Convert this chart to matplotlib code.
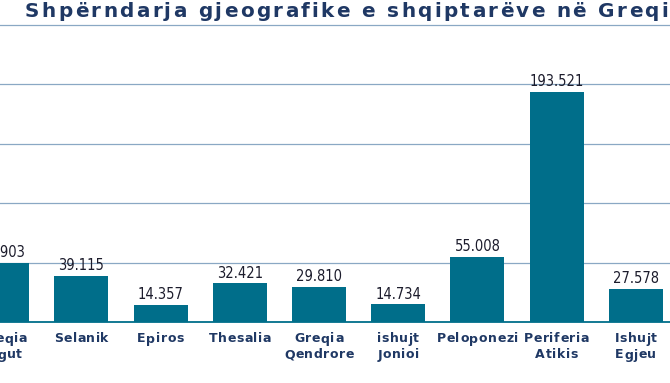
import matplotlib
matplotlib.use("Agg")
import matplotlib.pyplot as plt
from matplotlib.font_manager import findfont, FontProperties
from matplotlib.ft2font import FT2Font

# data (first bar is cut by the left edge)
categories = ["Greqia\nJugut", "Selanik", "Epiros", "Thesalia", "Greqia\nQendrore",
              "ishujt\nJonioi", "Peloponezi", "Periferia\nAtikis", "Ishujt\nEgjeu"]
values = [49.903, 39.115, 14.357, 32.421, 29.810, 14.734, 55.008, 193.521, 27.578]
value_labels = ["49.903", "39.115", "14.357", "32.421", "29.810", "14.734",
                "55.008", "193.521", "27.578"]
title = "Shpërndarja gjeografike e shqiptarëve në Greqi"

BAR = "#006e8a"
GRID = "#8aa8c4"
NAVY = "#1f3864"
W, H = 670, 383

fig = plt.figure(figsize=(W / 100, H / 100), dpi=100)
ax = fig.add_axes([0, 61 / H, 1, 299.4 / H])

x = list(range(len(values)))
ax.bar(x, values, width=0.68, color=BAR, zorder=3)
ax.set_xlim(-2.2 / 79.2, (W - 2.2) / 79.2)
ax.set_ylim(0, 252)

for yv in [50, 100, 150, 200, 250]:
    ax.axhline(yv, color=GRID, lw=0.9, zorder=1)

for xi, v, lab in zip(x, values, value_labels):
    ax.text(xi, v + 2.5, lab, ha="center", va="bottom", fontsize=10.5,
            family=["Liberation Sans Narrow", "DejaVu Sans"], stretch="condensed",
            color="#1c1c2c", zorder=4)

for s in ["top", "left", "right"]:
    ax.spines[s].set_visible(False)
ax.spines["bottom"].set_color(BAR)
ax.spines["bottom"].set_linewidth(1.3)
ax.set_yticks([])
ax.set_xticks([])

# bold text with letter spacing, placed glyph by glyph
font = FT2Font(findfont(FontProperties(family="DejaVu Sans", weight="bold")))


def advances(s, size):
    font.set_size(size, 100)
    return [font.load_char(ord(c)).linearHoriAdvance / 65536 for c in s]


def tracked(s, x_px, y_px, size, track, center=False):
    adv = advances(s, size)
    if center:
        x_px -= (sum(adv) + track * (len(s) - 1)) / 2
    for c, a in zip(s, adv):
        if c != " ":
            fig.text(x_px / W, 1 - y_px / H, c, fontsize=size, fontweight="bold",
                     color=NAVY, ha="left", va="baseline")
        x_px += a + track


# title: from x=25 to about x=668
t_size = 14.4
t_adv = advances(title, t_size)
t_track = (643 - sum(t_adv)) / (len(title) - 1)
tracked(title, 25, 17, t_size, t_track)

# category labels under the bars
for xi, cat in zip(x, categories):
    cx = ax.transData.transform((xi, 0))[0]
    for k, line in enumerate(cat.split("\n")):
        tracked(line, cx, 342.5 + 16 * k, 9, 0.5, center=True)

fig.savefig("out.png", dpi=100)
